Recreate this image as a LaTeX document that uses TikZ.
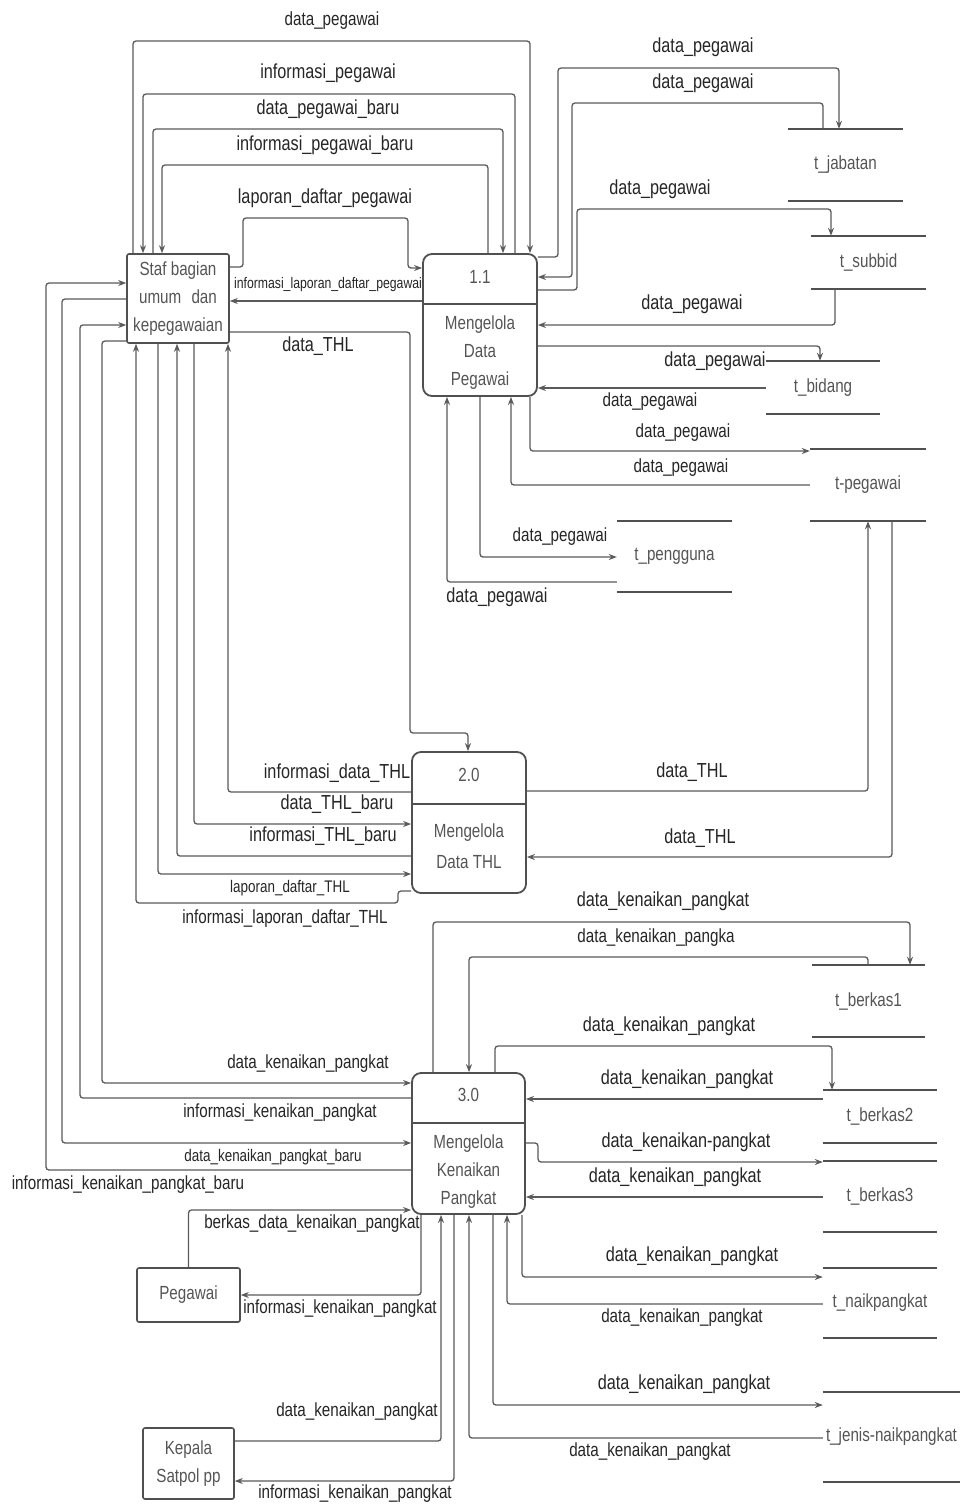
\documentclass[tikz,border=0pt]{standalone}
\usepackage{fontspec}
\setmainfont{Liberation Sans}[FakeStretch=0.8]
\usetikzlibrary{arrows.meta}
\definecolor{ln}{HTML}{5A5A5A}
\definecolor{bx}{HTML}{505050}
\definecolor{lb}{HTML}{262626}
\definecolor{bt}{HTML}{555555}
\newcommand\lblfont{\fontsize{19}{22}\selectfont}
\newcommand\bigfont{\fontsize{20.3}{23}\selectfont}
\newcommand\smfont{\fontsize{16.8}{19}\selectfont}
\newcommand\tinyfont{\fontsize{15.3}{18}\selectfont}
\newcommand\boxfont{\fontsize{19}{28}\selectfont}
\begin{document}
\begin{tikzpicture}[x=1pt,y=-1pt,
 flow/.style={draw=ln,line width=1.3pt,rounded corners=3pt,-{Stealth[length=8pt,width=6pt]}},
 lbl/.style={text=lb,font=\lblfont,inner sep=0pt},
 blbl/.style={lbl,font=\bigfont},
 slbl/.style={lbl,font=\smfont},
 tlbl/.style={lbl,font=\tinyfont},
 ent/.style={draw=bx,line width=1.6pt,rounded corners=2pt,align=center,text=bt,font=\boxfont,inner sep=0pt},
 proc/.style={draw=bx,line width=1.8pt,rounded corners=9pt,inner sep=0pt},
 ptxt/.style={align=center,text=bt,font=\boxfont,inner sep=0pt},
 div/.style={draw=bx,line width=2.2pt},
 store/.style={align=center,text=bt,font=\boxfont,inner sep=0pt},
 sline/.style={draw=bx,line width=2.2pt}]
\useasboundingbox[fill=white] (0,0) rectangle (962,1505);

% ---------- entities ----------
\node[ent,minimum width=102pt,minimum height=89pt] (staf) at (178,298.5) {Staf bagian\\umum\hspace{6pt} dan\\kepegawaian};
\node[ent,minimum width=103pt,minimum height=54pt] (peg) at (188.5,1295) {Pegawai};
\node[ent,minimum width=91pt,minimum height=71pt] (kep) at (188.5,1463.5) {Kepala\\Satpol pp};

% ---------- processes ----------
\node[proc,minimum width=114pt,minimum height=142pt] (p1) at (480,325) {};
\draw[div] (p1.west |- 0,304) -- (p1.east |- 0,304);
\node[ptxt] (p1id) at (480,277) {1.1};
\node[ptxt] (p1nm) at (480,353) {Mengelola\\Data\\Pegawai};

\node[proc,minimum width=114pt,minimum height=141pt] (p2) at (469,822.5) {};
\draw[div] (p2.west |- 0,804) -- (p2.east |- 0,804);
\node[ptxt] (p2id) at (469,775) {2.0};
\node[ptxt,font=\fontsize{19}{31}\selectfont] (p2nm) at (469,846.5) {Mengelola\\Data THL};

\node[proc,minimum width=113pt,minimum height=141pt] (p3) at (468.5,1143.5) {};
\draw[div] (p3.west |- 0,1123) -- (p3.east |- 0,1123);
\node[ptxt] (p3id) at (468.5,1095) {3.0};
\node[ptxt] (p3nm) at (468.5,1171.5) {Mengelola\\Kenaikan\\Pangkat};

% ---------- data stores ----------
\node[store,minimum width=115pt,minimum height=72pt] (sjab) at (845.5,165) {t\_jabatan};
\node[store,minimum width=115pt,minimum height=53pt] (ssub) at (868.5,262.5) {t\_subbid};
\node[store,minimum width=114pt,minimum height=53pt] (sbid) at (823,387.5) {t\_bidang};
\node[store,minimum width=116pt,minimum height=72pt] (speg) at (868,485) {t-pegawai};
\node[store,minimum width=115pt,minimum height=71pt] (spgn) at (674.5,556.5) {t\_pengguna};
\node[store,minimum width=113pt,minimum height=72pt] (sb1) at (868.5,1001) {t\_berkas1};
\node[store,minimum width=114pt,minimum height=53pt] (sb2) at (880,1116.5) {t\_berkas2};
\node[store,minimum width=114pt,minimum height=71pt] (sb3) at (880,1196.5) {t\_berkas3};
\node[store,minimum width=114pt,minimum height=70pt] (snaik) at (880,1303) {t\_naikpangkat};
\node[store,minimum width=137pt,minimum height=90pt] (sjen) at (891.5,1437) {t\_jenis-naikpangkat};
\foreach \s in {sjab,ssub,sbid,speg,spgn,sb1,sb2,sb3,snaik,sjen}{
  \draw[sline] (\s.north west) -- (\s.north east);
  \draw[sline] (\s.south west) -- (\s.south east);
}

% ---------- Staf <-> 1.1 ----------
\draw[flow] (staf.north -| 133,0) |- (530,41) -- (p1.north -| 530,0);
\draw[flow] (p1.north -| 515,0) |- (143,94) -- (staf.north -| 143,0);
\draw[flow] (staf.north -| 153,0) |- (503,129) -- (p1.north -| 503,0);
\draw[flow] (p1.north -| 488,0) |- (162,165) -- (staf.north -| 162,0);
\draw[flow] (staf.east |- 0,267) -| (243,218) -| (408,268) -- (p1.west |- 0,268);
\draw[flow] (p1.west |- 0,301) -- (staf.east |- 0,301);
\draw[flow] (staf.east |- 0,332) -| (410,733) -| (p2.north -| 468,0);

\node[lbl] (l1) at (332,21) {data\_pegawai};
\node[blbl] (l2) at (328,73) {informasi\_pegawai};
\node[blbl] (l3) at (328,109) {data\_pegawai\_baru};
\node[blbl] (l4) at (325,145) {informasi\_pegawai\_baru};
\node[blbl] (l5) at (325,198) {laporan\_daftar\_pegawai};
\node[tlbl] (l6) at (328,285) {informasi\_laporan\_daftar\_pegawai};
\node[blbl] (l7) at (318,346) {data\_THL};

% ---------- 1.1 <-> stores ----------
\draw[flow] (p1.east |- 0,257) -| (558,68) -| (sjab.north -| 839,0);
\draw[flow] (sjab.north -| 823,0) |- (572,103) |- (p1.east |- 0,277);
\draw[flow] (p1.east |- 0,290) -| (577,209) -| (ssub.north -| 831,0);
\draw[flow] (ssub.south -| 835,0) |- (p1.east |- 0,325);
\draw[flow] (p1.east |- 0,346) -| (sbid.north -| 820,0);
\draw[flow] (sbid.west |- 0,388) -- (p1.east |- 0,388);
\draw[flow] (p1.south -| 530,0) |- (speg.west |- 0,451);
\draw[flow] (speg.west |- 0,485) -| (p1.south -| 511,0);
\draw[flow] (p1.south -| 480,0) |- (spgn.west |- 0,557);
\draw[flow] (spgn.west |- 0,582) -| (p1.south -| 447,0);

\node[blbl] (r1) at (703,47) {data\_pegawai};
\node[blbl] (r2) at (703,83) {data\_pegawai};
\node[blbl] (r3) at (660,189) {data\_pegawai};
\node[blbl] (r4) at (692,304) {data\_pegawai};
\node[blbl] (r5) at (715,361) {data\_pegawai};
\node[lbl] (r6) at (650,402) {data\_pegawai};
\node[lbl] (r7) at (683,433) {data\_pegawai};
\node[lbl] (r8) at (681,468) {data\_pegawai};
\node[lbl] (r9) at (560,537) {data\_pegawai};
\node[blbl] (r10) at (497,597) {data\_pegawai};

% ---------- 2.0 ----------
\draw[flow] (p2.east |- 0,791) -| (speg.south -| 868,0);
\draw[flow] (speg.south -| 892,0) |- (p2.east |- 0,857);
\node[blbl] (t1) at (692,772) {data\_THL};
\node[blbl] (t2) at (700,838) {data\_THL};

\draw[flow] (p2.west |- 0,792) -| (staf.south -| 228,0);
\draw[flow] (staf.south -| 194,0) |- (p2.west |- 0,824);
\draw[flow] (p2.west |- 0,856) -| (staf.south -| 177,0);
\draw[flow] (staf.south -| 158,0) |- (p2.west |- 0,874);
\draw[flow] (p2.west |- 0,891) -| (398,903) -| (staf.south -| 136,0);
\node[blbl] (t3) at (337,773) {informasi\_data\_THL};
\node[blbl] (t4) at (337,804) {data\_THL\_baru};
\node[blbl] (t5) at (323,836) {informasi\_THL\_baru};
\node[slbl] (t6) at (290,888) {laporan\_daftar\_THL};
\node[lbl] (t7) at (285,919) {informasi\_laporan\_daftar\_THL};

% ---------- Staf <-> 3.0 ----------
\draw[flow] (staf.west |- 0,341) -| (102,1083) -- (p3.west |- 0,1083);
\draw[flow] (p3.west |- 0,1098) -| (80,325) -- (staf.west |- 0,325);
\draw[flow] (staf.west |- 0,299) -| (62,1143) -- (p3.west |- 0,1143);
\draw[flow] (p3.west |- 0,1170) -| (46,283) -- (staf.west |- 0,283);
\node[lbl] (k1) at (308,1064) {data\_kenaikan\_pangkat};
\node[lbl] (k2) at (280,1113) {informasi\_kenaikan\_pangkat};
\node[slbl] (k3) at (273,1157) {data\_kenaikan\_pangkat\_baru};
\node[lbl] (k4) at (128,1185) {informasi\_kenaikan\_pangkat\_baru};

% ---------- 3.0 <-> stores ----------
\draw[flow] (p3.north -| 433,0) |- (910,922) -- (sb1.north -| 910,0);
\draw[flow] (sb1.north -| 868,0) |- (469,957) -- (p3.north -| 469,0);
\draw[flow] (p3.north -| 495,0) |- (832,1046) -- (sb2.north -| 832,0);
\draw[flow] (sb2.west |- 0,1099) -- (p3.east |- 0,1099);
\draw[flow] (p3.east |- 0,1143) -| (538,1162) -- (sb3.west |- 0,1162);
\draw[flow] (sb3.west |- 0,1197) -- (p3.east |- 0,1197);
\draw[flow] (p3.south -| 522,0) |- (snaik.west |- 0,1277);
\draw[flow] (snaik.west |- 0,1304) -| (p3.south -| 507,0);
\draw[flow] (p3.south -| 493,0) |- (sjen.west |- 0,1405);
\draw[flow] (sjen.west |- 0,1438) -| (p3.south -| 469,0);

\node[blbl] (s1) at (663,901) {data\_kenaikan\_pangkat};
\node[lbl] (s2) at (656,938) {data\_kenaikan\_pangka};
\node[blbl] (s3) at (669,1026) {data\_kenaikan\_pangkat};
\node[blbl] (s4) at (687,1079) {data\_kenaikan\_pangkat};
\node[blbl] (s5) at (686,1142) {data\_kenaikan-pangkat};
\node[blbl] (s6) at (675,1177) {data\_kenaikan\_pangkat};
\node[blbl] (s7) at (692,1256) {data\_kenaikan\_pangkat};
\node[lbl] (s8) at (682,1318) {data\_kenaikan\_pangkat};
\node[blbl] (s9) at (684,1384) {data\_kenaikan\_pangkat};
\node[lbl] (s10) at (650,1452) {data\_kenaikan\_pangkat};

% ---------- Pegawai / Kepala ----------
\draw[flow] (peg.north) |- (p3.west |- 0,1210);
\draw[flow] (p3.south -| 421,0) |- (peg.east |- 0,1295);
\draw[flow] (kep.east |- 0,1441) -| (p3.south -| 441,0);
\draw[flow] (p3.south -| 454,0) |- (kep.east |- 0,1481);
\node[lbl] (b1) at (312,1224) {berkas\_data\_kenaikan\_pangkat};
\node[lbl] (b2) at (340,1309) {informasi\_kenaikan\_pangkat};
\node[lbl] (b3) at (357,1412) {data\_kenaikan\_pangkat};
\node[lbl] (b4) at (355,1494) {informasi\_kenaikan\_pangkat};
\end{tikzpicture}
\end{document}
